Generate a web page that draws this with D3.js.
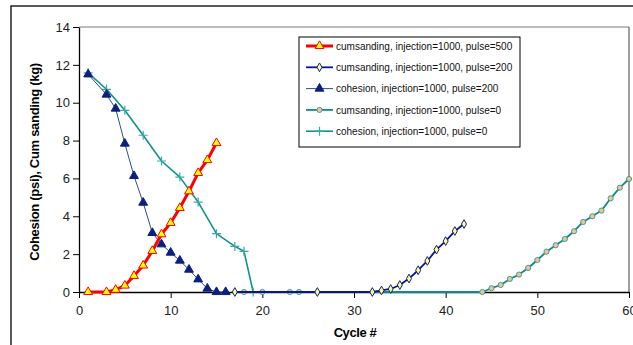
<!DOCTYPE html>
<html>
<head>
<meta charset="utf-8">
<script src="https://cdn.jsdelivr.net/npm/d3@7"></script>
<style>
  body { margin: 0; background: #fff; }
  text { font-family: Arial, "Liberation Sans", sans-serif; }
</style>
</head>
<body>
<div id="chart-area"></div>
<script>
// Cohesion / cumulative sanding vs cycle

var sand500X = [1, 3, 4, 5, 6, 7, 8, 9, 10, 11, 12, 13, 14, 15];
var sand500Y = [0, 0, 0.12, 0.34, 0.85, 1.4, 2.17, 3.05, 3.65, 4.44, 5.32, 6.29, 6.97, 7.87];

var sand200X = [17, 26, 32, 33, 34, 35, 36, 37, 38, 39, 40, 41, 42];
var sand200Y = [0, 0, 0, 0.08, 0.16, 0.37, 0.71, 1.15, 1.64, 2.24, 2.69, 3.22, 3.59];

var coh200X = [1, 3, 4, 5, 6, 7, 8, 9, 10, 11, 12, 13, 14, 15, 16];
var coh200Y = [11.5, 10.43, 9.69, 7.84, 6.13, 4.72, 3.12, 2.52, 2.08, 1.66, 1.18, 0.67, 0.18, 0, 0];

var sand0X = [18, 20, 23, 24, 44, 45, 46, 47, 48, 49, 50, 51, 52, 53, 54, 55, 56, 57, 58, 59, 60];
var sand0Y = [0, 0, 0, 0, 0, 0.2, 0.37, 0.69, 0.92, 1.27, 1.69, 2.13, 2.47, 2.8, 3.21, 3.7, 4.0, 4.3, 4.95, 5.51, 5.97];

var coh0X = [1, 3, 5, 7, 9, 11, 13, 15, 17, 18, 19];
var coh0Y = [11.58, 10.71, 9.6, 8.28, 6.92, 6.07, 4.75, 3.08, 2.41, 2.15, 0];

var xTicks = [0, 10, 20, 30, 40, 50, 60];
var yTicks = [0, 2, 4, 6, 8, 10, 12, 14];

var legendLabels = [
    "cumsanding, injection=1000, pulse=500",
    "cumsanding, injection=1000, pulse=200",
    "cohesion, injection=1000, pulse=200",
    "cumsanding, injection=1000, pulse=0",
    "cohesion, injection=1000, pulse=0"
];

var margin = { left: 79, right: 4, top: 27, bottom: 53 };
var width = 633 - margin.left - margin.right;
var height = 345 - margin.top - margin.bottom;

var svg = d3.select("#chart-area")
    .append("svg")
    .attr("width", 633)
    .attr("height", 345);

// outer chart border
svg.append("rect")
    .attr("x", 11).attr("y", 6)
    .attr("width", 640).attr("height", 360)
    .attr("fill", "none")
    .attr("stroke", "#000")
    .attr("stroke-width", 1.3);

var g = svg.append("g")
    .attr("transform", "translate(" + margin.left + "," + margin.top + ")");

var x = d3.scaleLinear().domain([0, 60]).range([0, 550]);
var y = d3.scaleLinear().domain([0, 14]).range([265, 0]);

// plot area frame (top and right)
g.append("line").attr("x1", 0).attr("x2", x(60)).attr("y1", 0).attr("y2", 0)
    .attr("stroke", "#a6a6a6").attr("stroke-width", 1.5);
g.append("line").attr("x1", x(60)).attr("x2", x(60)).attr("y1", 0).attr("y2", y(0))
    .attr("stroke", "#7f7f7f").attr("stroke-width", 1.5);

var xAxis = g.append("g")
    .attr("transform", "translate(0," + y(0) + ")")
    .call(d3.axisBottom(x).tickValues(xTicks).tickSize(6).tickPadding(8).tickSizeOuter(0));

var yAxis = g.append("g")
    .call(d3.axisLeft(y).tickValues(yTicks).tickSize(6).tickPadding(3).tickSizeOuter(0));

[xAxis, yAxis].forEach(function(a) {
    a.select(".domain").attr("stroke", "#000").attr("stroke-width", 1.3);
    a.selectAll(".tick line").attr("stroke", "#000");
    a.selectAll(".tick text")
        .attr("font-size", 13)
        .attr("font-family", "Arial, 'Liberation Sans', sans-serif")
        .attr("fill", "#222");
});

svg.append("text")
    .attr("x", 355).attr("y", 337)
    .attr("text-anchor", "middle")
    .attr("font-size", 13).attr("font-weight", "bold")
    .attr("letter-spacing", -0.4)
    .text("Cycle #");

svg.append("text")
    .attr("transform", "translate(39,162) rotate(-90)")
    .attr("text-anchor", "middle")
    .attr("font-size", 13).attr("font-weight", "bold")
    .attr("letter-spacing", -0.3)
    .text("Cohesion (psi), Cum sanding (kg)");

var line = d3.line()
    .x(function(d) { return x(d[0]); })
    .y(function(d) { return y(d[1]); });

function pairs(xs, ys) {
    return xs.map(function(v, i) { return [v, ys[i]]; });
}

var triangle = d3.symbol().type(d3.symbolTriangle);
var diamond = d3.symbol().type(d3.symbolDiamond);

var series = [
    { data: pairs(coh0X, coh0Y), stroke: "#12918f", width: 1.6, marker: "plus", mfill: "none", mstroke: "#3aa8a8", size: 9 },
    { data: pairs(sand0X, sand0Y), stroke: "#0d8a8a", width: 1.8, marker: "circle", mfill: "#f7c08e", mstroke: "#2a9a96", size: 2.6 },
    { data: pairs(coh200X, coh200Y), stroke: "#2c4f8a", width: 1, marker: "triangle", mfill: "#0a1f80", mstroke: "#0a1f80", size: 34 },
    { data: pairs(sand200X, sand200Y), stroke: "#0a1594", width: 1.8, marker: "diamond", mfill: "#ffff88", mstroke: "#0a1f80", size: 22 },
    { data: pairs(sand500X, sand500Y), stroke: "#ff0000", width: 3, marker: "triangle", mfill: "#ffff00", mstroke: "#ff0000", size: 34 }
];

function drawMarker(sel, s) {
    if (s.marker === "plus") {
        sel.append("path")
            .attr("d", "M" + (-s.size / 2) + ",0H" + (s.size / 2) + "M0," + (-s.size / 2) + "V" + (s.size / 2))
            .attr("stroke", s.mstroke).attr("stroke-width", 1.2).attr("fill", "none");
    } else if (s.marker === "circle") {
        sel.append("circle").attr("r", s.size)
            .attr("fill", s.mfill).attr("stroke", s.mstroke).attr("stroke-width", 0.9);
    } else if (s.marker === "triangle") {
        sel.append("path").attr("d", triangle.size(s.size)())
            .attr("fill", s.mfill).attr("stroke", s.mstroke).attr("stroke-width", 1);
    } else {
        sel.append("path").attr("d", diamond.size(s.size)())
            .attr("fill", s.mfill).attr("stroke", s.mstroke).attr("stroke-width", 1);
    }
}

series.forEach(function(s) {
    g.append("path")
        .datum(s.data)
        .attr("d", line)
        .attr("fill", "none")
        .attr("stroke", s.stroke)
        .attr("stroke-width", s.width)
        .attr("stroke-linejoin", "round");
    g.selectAll(null)
        .data(s.data)
        .enter()
        .append("g")
        .attr("transform", function(d) { return "translate(" + x(d[0]) + "," + y(d[1]) + ")"; })
        .each(function() { drawMarker(d3.select(this), s); });
});

// legend
var legendOrder = [4, 3, 2, 1, 0];
var legend = svg.append("g").attr("transform", "translate(299,37)");
legend.append("rect")
    .attr("width", 221).attr("height", 110)
    .attr("fill", "#fff").attr("stroke", "#000").attr("stroke-width", 1);

legendLabels.forEach(function(label, i) {
    var s = series[legendOrder[i]];
    var row = legend.append("g").attr("transform", "translate(0," + (9 + i * 21.3) + ")");
    row.append("line").attr("x1", 7).attr("x2", 34).attr("y1", 0).attr("y2", 0)
        .attr("stroke", s.stroke).attr("stroke-width", s.width);
    drawMarker(row.append("g").attr("transform", "translate(20.5,0)"), s);
    row.append("text")
        .attr("x", 37).attr("y", 3.6)
        .attr("font-size", 10)
        .attr("fill", "#111")
        .text(label);
});
</script>
</body>
</html>
